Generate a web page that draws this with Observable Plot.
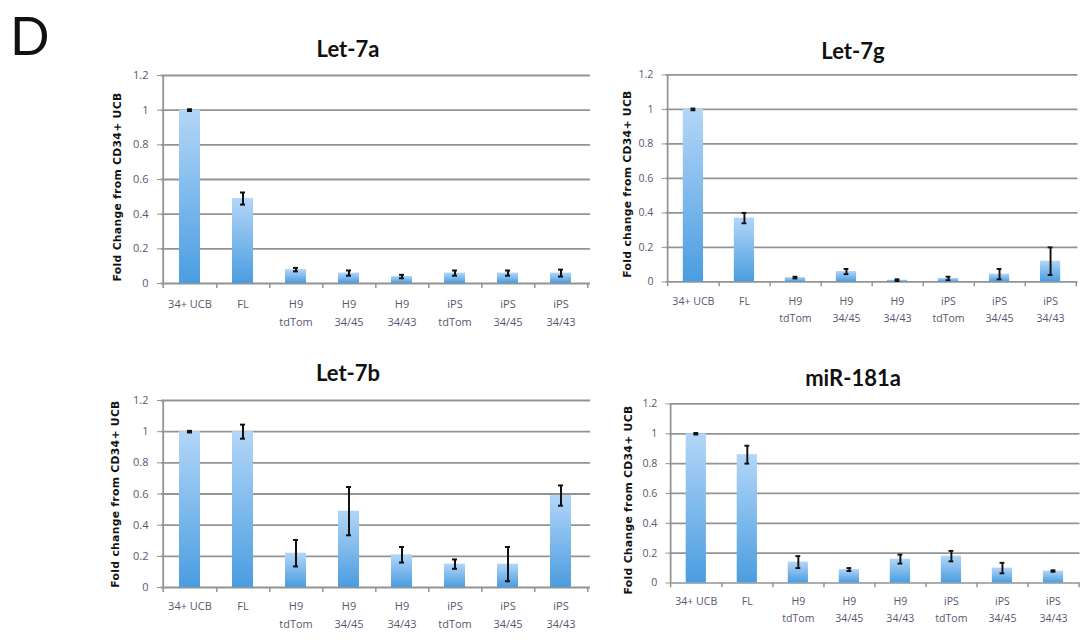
<!DOCTYPE html>
<html>
<head>
<meta charset="utf-8">
<script src="https://cdn.jsdelivr.net/npm/d3@7"></script>
<script src="https://cdn.jsdelivr.net/npm/@observablehq/plot@0.6"></script>
<style>
  html, body { margin: 0; padding: 0; background: #fff; }
  #root { position: relative; width: 1091px; height: 644px; overflow: hidden; background: #fff; }
  .panel { position: absolute; }
  .title { position: absolute; transform: translate(-50%, -50%); font-family: Lato, "Open Sans", sans-serif; font-weight: 700; font-size: 22px; color: #111; white-space: nowrap; }
  .ytitle { position: absolute; transform: translate(-50%, -50%) rotate(-90deg); font-family: "DejaVu Sans", sans-serif; font-weight: 700; font-size: 10.8px; letter-spacing: 0.3px; color: #111; white-space: nowrap; }
  .letter { position: absolute; left: 10px; top: 4px; font-family: Lato, sans-serif; font-size: 52px; color: #111; }
</style>
</head>
<body>
<svg width="0" height="0" style="position:absolute">
  <defs>
    <linearGradient id="barGrad" x1="0" y1="0" x2="0" y2="1">
      <stop offset="0%" stop-color="#b3d6f8"></stop>
      <stop offset="100%" stop-color="#4a9de0"></stop>
    </linearGradient>
  </defs>
</svg>
<div id="root">
  <div class="letter">D</div>
</div>
<script>
// ---- data ----
const categories = ["34+ UCB", "FL", "H9 tdTom", "H9 34/45", "H9 34/43", "iPS tdTom", "iPS 34/45", "iPS 34/43"];
const labelLine1 = ["34+ UCB", "FL", "H9", "H9", "H9", "iPS", "iPS", "iPS"];
const labelLine2 = ["", "", "tdTom", "34/45", "34/43", "tdTom", "34/45", "34/43"];
const yTicks = [0, 0.2, 0.4, 0.6, 0.8, 1, 1.2];

const let7aValues = [1.0, 0.49, 0.08, 0.06, 0.04, 0.06, 0.06, 0.06];
const let7aErrors = [0.005, 0.035, 0.01, 0.015, 0.01, 0.015, 0.015, 0.02];
const let7gValues = [1.0, 0.37, 0.025, 0.06, 0.01, 0.02, 0.045, 0.12];
const let7gErrors = [0.005, 0.03, 0.005, 0.015, 0.005, 0.01, 0.03, 0.08];
const let7bValues = [1.0, 1.0, 0.22, 0.49, 0.21, 0.15, 0.15, 0.59];
const let7bErrors = [0.005, 0.045, 0.085, 0.155, 0.05, 0.03, 0.11, 0.065];
const mir181aValues = [1.0, 0.86, 0.14, 0.09, 0.16, 0.18, 0.10, 0.08];
const mir181aErrors = [0.005, 0.06, 0.04, 0.01, 0.03, 0.035, 0.035, 0.005];

const panelTitles = ["Let-7a", "Let-7g", "Let-7b", "miR-181a"];
const yTitles = ["Fold Change from CD34+ UCB", "Fold change from CD34+ UCB", "Fold change from CD34+ UCB", "Fold Change from CD34+ UCB"];

// ---- layout ----
const layouts = [
  {left: 90, top: 60, width: 510, height: 290, mL: 71, mR: 10, mT: 15, mB: 67, dy1: 21, dy2: 39, tx: 348, ty: 48, yx: 117, yy: 187},
  {left: 600, top: 60, width: 510, height: 290, mL: 68, mR: 14, mT: 15, mB: 60, dy1: 20, dy2: 38, tx: 853, ty: 50, yx: 627, yy: 184},
  {left: 90, top: 385, width: 510, height: 259, mL: 71, mR: 10, mT: 15, mB: 57, dy1: 19, dy2: 37, tx: 348, ty: 372, yx: 115, yy: 494},
  {left: 600, top: 389, width: 510, height: 255, mL: 72, mR: 12, mT: 15, mB: 54, dy1: 19, dy2: 37, tx: 853, ty: 377, yx: 628, yy: 500}
];
const series = [[let7aValues, let7aErrors], [let7gValues, let7gErrors], [let7bValues, let7bErrors], [mir181aValues, mir181aErrors]];

const gridColor = "#939393";
const labelColor = "#5b5670";
const root = document.getElementById("root");

series.forEach(([vals, errs], p) => {
  const L = layouts[p];
  const rows = categories.map((c, i) => ({
    category: c, value: vals[i], err: errs[i], line1: labelLine1[i], line2: labelLine2[i]
  }));
  const step = (L.width - L.mL - L.mR) / categories.length;
  const chart = Plot.plot({
    width: L.width,
    height: L.height,
    marginLeft: L.mL,
    marginRight: L.mR,
    marginTop: L.mT,
    marginBottom: L.mB,
    style: {background: "transparent", fontFamily: "'Open Sans', sans-serif", fontSize: "11px", overflow: "visible"},
    x: {domain: categories, paddingInner: 0.6, paddingOuter: 0.3},
    y: {domain: [0, 1.2]},
    marks: [
      Plot.gridY(yTicks.filter(d => d > 0), {stroke: gridColor, strokeOpacity: 1, strokeWidth: 1.8}),
      Plot.ruleY([0], {stroke: gridColor, strokeWidth: 1.8}),
      Plot.ruleX([categories[0]], {x: d => d, y1: 0, y2: 1.2, dx: -step / 2, stroke: gridColor, strokeWidth: 1.8}),
      Plot.axisY(yTicks, {tickSize: 4, tickPadding: 9, stroke: gridColor, fill: labelColor, label: null,
        tickFormat: d => String(+d.toFixed(1)), fontSize: 11}),
      Plot.axisX(categories, {dx: step / 2, tickSize: 5, tickFormat: () => "", label: null, stroke: gridColor, strokeWidth: 1.5}),
      Plot.axisX([categories[0]], {dx: -step / 2, tickSize: 5, tickFormat: () => "", label: null, stroke: gridColor, strokeWidth: 1.5}),
      Plot.barY(rows, {x: "category", y: "value", fill: "url(#barGrad)"}),
      Plot.ruleX(rows, {x: "category", y1: d => d.value - d.err, y2: d => d.value + d.err, stroke: "#111", strokeWidth: 2}),
      Plot.tickY(rows, {x: "category", y: d => d.value - d.err, stroke: "#111", strokeWidth: 2, insetLeft: 8, insetRight: 8}),
      Plot.tickY(rows, {x: "category", y: d => d.value + d.err, stroke: "#111", strokeWidth: 2, insetLeft: 8, insetRight: 8}),
      Plot.text(rows, {x: "category", y: 0, text: "line1", dy: L.dy1, fill: labelColor, fontSize: 11}),
      Plot.text(rows, {x: "category", y: 0, text: "line2", dy: L.dy2, fill: labelColor, fontSize: 11})
    ]
  });
  const wrap = document.createElement("div");
  wrap.className = "panel";
  wrap.style.left = L.left + "px";
  wrap.style.top = L.top + "px";
  wrap.appendChild(chart);
  root.appendChild(wrap);

  const t = document.createElement("div");
  t.className = "title";
  t.style.left = L.tx + "px";
  t.style.top = L.ty + "px";
  t.textContent = panelTitles[p];
  root.appendChild(t);

  const yt = document.createElement("div");
  yt.className = "ytitle";
  yt.style.left = L.yx + "px";
  yt.style.top = L.yy + "px";
  yt.textContent = yTitles[p];
  root.appendChild(yt);
});
</script>
</body>
</html>
